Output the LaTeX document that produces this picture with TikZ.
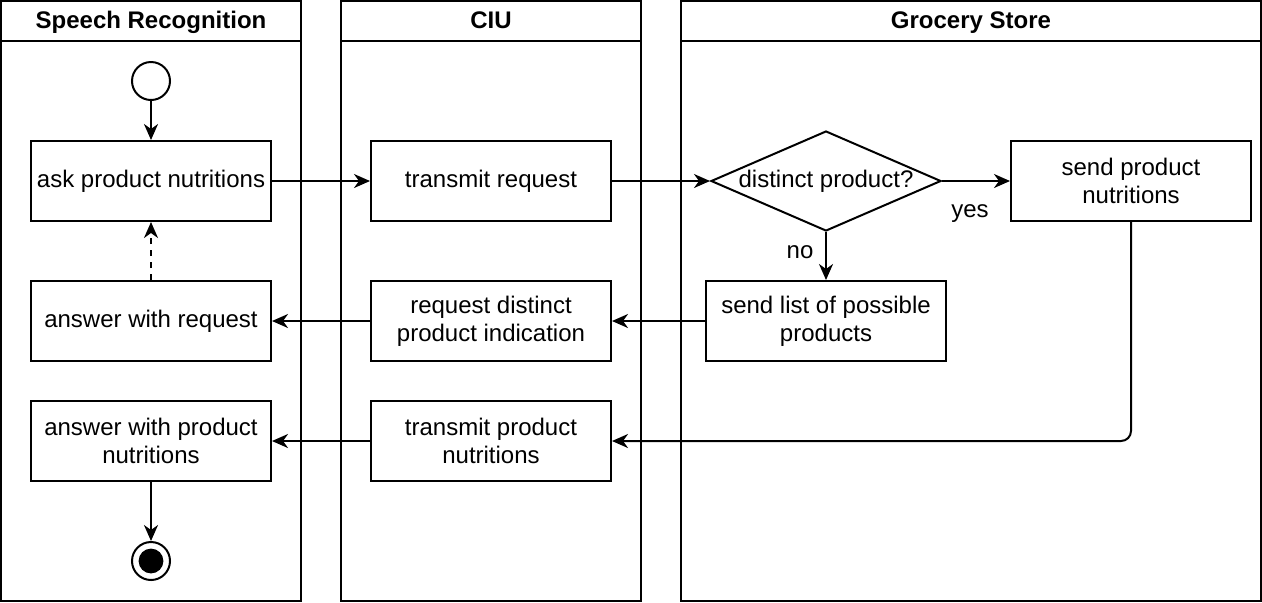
\documentclass[tikz,border=0pt]{standalone}
\usepackage{fontspec}
\setmainfont{Liberation Sans}
\usetikzlibrary{arrows.meta,shapes.geometric}

\tikzset{
  lane/.style={line width=1pt},
  lanetitle/.style={anchor=base, font=\fontsize{12}{14}\selectfont\bfseries},
  act/.style={draw, line width=1pt, minimum width=120pt, minimum height=40pt,
    inner sep=0pt, align=center, font=\fontsize{12}{14}\selectfont},
  choice/.style={draw, line width=1pt, diamond, aspect=2.3, inner sep=0pt,
    minimum width=115pt, minimum height=50pt, font=\fontsize{12}{14}\selectfont},
  initstate/.style={draw, line width=1pt, circle, minimum size=19pt, inner sep=0pt},
  finalstate/.style={draw, line width=1pt, circle, minimum size=19pt, inner sep=0pt,
    path picture={\fill (path picture bounding box.center) circle (6.2pt);}},
  guard/.style={anchor=base, font=\fontsize{12}{14}\selectfont},
  flow/.style={line width=1pt, -{Stealth[length=8pt,width=7pt,inset=2.5pt]}}
}

\begin{document}
\begin{tikzpicture}[x=0.5pt,y=-0.5pt]
  \useasboundingbox (0,0) rectangle (1262,602);

  % Drawing swimlanes
  \draw [lane] (1,1) rectangle (301,601);%
  \draw [lane] (1,41) -- (301,41);%
  \draw [lane] (341,1) rectangle (641,601);%
  \draw [lane] (341,41) -- (641,41);%
  \draw [lane] (681,1) rectangle (1261,601);%
  \draw [lane] (681,41) -- (1261,41);%

  % Marking lane titles
  \node [lanetitle] (speech) at (151,28.5) {Speech Recognition};%
  \node [lanetitle] (ciu) at (491,28.5) {CIU};%
  \node [lanetitle] (store) at (971,28.5) {Grocery Store};%

  % Speech Recognition lane
  \node [initstate] (start) at (151,81) {};%
  \node [act] (ask) at (151,181) {ask product nutritions};%
  \node [act] (answerreq) at (151,321) {answer with request};%
  \node [act] (answernut) at (151,441) {answer with product\\nutritions};%
  \node [finalstate] (stop) at (151,561) {};%

  % CIU lane
  \node [act] (transreq) at (491,181) {transmit request};%
  \node [act] (reqdist) at (491,321) {request distinct\\product indication};%
  \node [act] (transnut) at (491,441) {transmit product\\nutritions};%

  % Grocery Store lane
  \node [choice] (distinct) at (826,181) {distinct product?};%
  \node [act] (sendnut) at (1131,181) {send product\\nutritions};%
  \node [act] (sendlist) at (826,321) {send list of possible\\products};%

  % Drawing flows
  \draw [flow] (start) -- (ask);%
  \draw [flow] (ask) -- (transreq);%
  \draw [flow] (transreq) -- (distinct);%
  \draw [flow] (distinct) -- (sendnut);%
  \draw [flow] (distinct) -- (sendlist);%
  \draw [flow] (sendlist) -- (reqdist);%
  \draw [flow] (reqdist) -- (answerreq);%
  \draw [flow, dashed] (answerreq) -- (ask);%
  \draw [flow, rounded corners=5pt] (sendnut.south) |- (transnut.east);%
  \draw [flow] (transnut) -- (answernut);%
  \draw [flow] (answernut) -- (stop);%

  % Marking guards
  \node [guard] (yes) at (970,217.5) {yes};%
  \node [guard] (no) at (800,258.5) {no};%
\end{tikzpicture}
\end{document}
